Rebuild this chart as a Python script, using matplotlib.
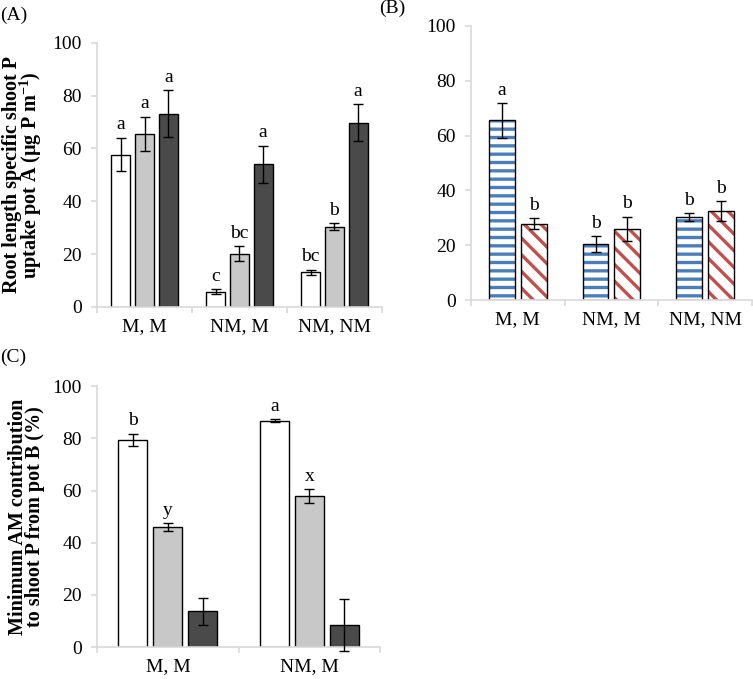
import numpy as np
import matplotlib
matplotlib.use("Agg")
import matplotlib.pyplot as plt
from matplotlib.ticker import FixedLocator

plt.rcParams["font.family"] = ["Liberation Serif", "DejaVu Serif"]
plt.rcParams["mathtext.fontset"] = "custom"
plt.rcParams["mathtext.rm"] = "Liberation Serif"
plt.rcParams["mathtext.bf"] = "Liberation Serif:bold"
plt.rcParams["hatch.linewidth"] = 2.4

# --- data -------------------------------------------------------------
cats_ab = ["M, M", "NM, M", "NM, NM"]
cats_c = ["M, M", "NM, M"]

# panel A: three series (white / gray / dark)
a_white = [57.7, 5.8, 13.1]
a_white_err = [6.4, 0.8, 1.0]
a_gray = [65.6, 20.2, 30.4]
a_gray_err = [6.4, 2.9, 1.4]
a_dark = [73.2, 54.0, 69.8]
a_dark_err = [8.8, 7.0, 7.0]
a_letters = [["a", "c", "bc"], ["a", "bc", "b"], ["a", "a", "a"]]

# panel B: two series (blue stripes / red diagonal)
b_blue = [65.5, 20.3, 30.4]
b_blue_err = [6.4, 2.9, 1.4]
b_red = [27.8, 25.9, 32.5]
b_red_err = [2.0, 4.5, 3.6]
b_letters = [["a", "b", "b"], ["b", "b", "b"]]

# panel C
c_white = [79.4, 86.8]
c_white_err = [2.4, 0.5]
c_gray = [46.1, 57.9]
c_gray_err = [1.5, 2.7]
c_dark = [13.7, 8.4]
c_dark_err = [5.1, 10.0]
c_letters = [["b", "a"], ["y", "x"], ["", ""]]

# --- style ------------------------------------------------------------
SPINE = "#d9d9d9"
FS = 14
LFS = 14.5
GRAY = "#c8c8c8"
DARK = "#4a4a4a"
BLUE = "#4a7ebb"
RED = "#c0504d"


def style_axes(ax, ncat):
    ax.set_xlim(-0.5, ncat - 0.5)
    ax.set_ylim(0, 100)
    for s in ["top", "right"]:
        ax.spines[s].set_visible(False)
    ax.spines["left"].set_color(SPINE)
    ax.spines["bottom"].set_color(SPINE)
    ax.spines["left"].set_linewidth(1.2)
    ax.spines["bottom"].set_linewidth(1.2)
    ax.set_yticks(range(0, 101, 20))
    ax.tick_params(axis="y", colors=SPINE, length=4, width=1.2, pad=7,
                   labelcolor="black", labelsize=FS)
    ax.set_xticks(range(ncat))
    ax.tick_params(axis="x", which="major", length=0, pad=8,
                   labelcolor="black", labelsize=FS)
    ax.xaxis.set_minor_locator(FixedLocator(np.arange(-0.5, ncat, 1.0)))
    ax.tick_params(axis="x", which="minor", length=4, width=1.2, colors=SPINE)


def bars(ax, x, vals, errs, width, **kw):
    ax.bar(x, vals, width, edgecolor="black", linewidth=1.0, zorder=2, **kw)
    ax.errorbar(x, vals, yerr=errs, fmt="none", ecolor="black", elinewidth=1.0,
                capsize=3.5, capthick=1.0, zorder=3, clip_on=False)


def letters(ax, x, vals, errs, labs):
    for xi, v, e, t in zip(x, vals, errs, labs):
        if t:
            ax.annotate(t, (xi, v + e), xytext=(0, 6), textcoords="offset points",
                        ha="center", va="baseline", fontsize=FS)


fig = plt.figure(figsize=(7.53, 6.79), dpi=100)

# --- (A) -------------------------------------------------------------
axA = fig.add_axes([0.129, 0.548, 0.378, 0.389])
x = np.arange(len(cats_ab))
w, off = 0.2, 0.25
series = [(a_white, a_white_err, "white"), (a_gray, a_gray_err, GRAY),
          (a_dark, a_dark_err, DARK)]
for k, (v, e, c) in enumerate(series):
    xs = x + (k - 1) * off
    bars(axA, xs, v, e, w, color=c)
    letters(axA, xs, v, e, a_letters[k])
style_axes(axA, len(cats_ab))
axA.set_xticklabels(cats_ab)
axA.set_ylabel("Root length specific shoot P\nuptake pot A (μg P m$^{\\mathbf{-1}}$)",
               fontsize=LFS, fontweight="bold", linespacing=0.8)
axA.yaxis.set_label_coords(-0.185, 0.5)

# --- (B) -------------------------------------------------------------
axB = fig.add_axes([0.6255, 0.558, 0.373, 0.404])
w, off = 0.275, 0.17
for k, (v, e, c, h) in enumerate([(b_blue, b_blue_err, BLUE, "--"),
                                   (b_red, b_red_err, RED, "\\\\")]):
    xs = x + (k - 0.5) * 2 * off
    axB.bar(xs, v, w, color="white", edgecolor=c, hatch=h, linewidth=0, zorder=2)
    bars(axB, xs, v, e, w, color="none")
    letters(axB, xs, v, e, b_letters[k])
style_axes(axB, len(cats_ab))
axB.set_xticklabels(cats_ab)

# --- (C) -------------------------------------------------------------
axC = fig.add_axes([0.129, 0.047, 0.376, 0.384])
xc = np.arange(len(cats_c))
w, off = 0.205, 0.247
series = [(c_white, c_white_err, "white"), (c_gray, c_gray_err, GRAY),
          (c_dark, c_dark_err, DARK)]
for k, (v, e, c) in enumerate(series):
    xs = xc + (k - 1) * off
    bars(axC, xs, v, e, w, color=c)
    letters(axC, xs, v, e, c_letters[k])
style_axes(axC, len(cats_c))
axC.set_xticklabels(cats_c)
axC.set_ylabel("Minimum AM contribution\nto shoot P from pot B (%)",
               fontsize=LFS, fontweight="bold", linespacing=0.8)
axC.yaxis.set_label_coords(-0.185, 0.5)

# panel tags
fig.text(0.0, 0.99, "(A)", fontsize=FS, va="top", ha="left")
fig.text(0.503, 1.0, "(B)", fontsize=FS, va="top", ha="left")
fig.text(0.0, 0.487, "(C)", fontsize=FS, va="top", ha="left")

fig.savefig("out.png", dpi=100)
